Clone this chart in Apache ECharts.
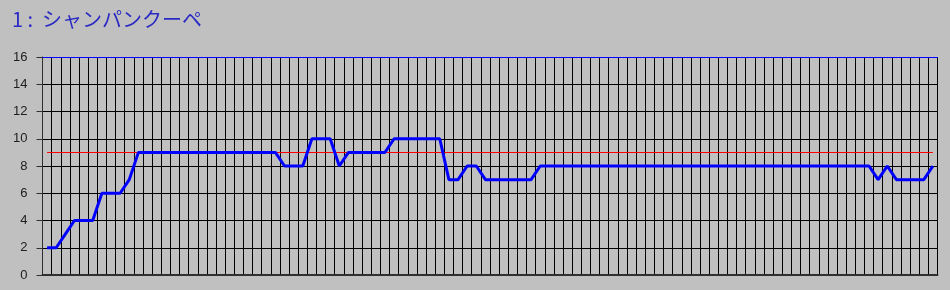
<!DOCTYPE html>
<html>
<head>
<meta charset="utf-8">
<script src="https://cdn.jsdelivr.net/npm/echarts@6/dist/echarts.min.js"></script>
<style>
html,body{margin:0;padding:0;background:#c0c0c0;}
#c{width:950px;height:290px;}
</style>
</head>
<body>
<div id="c"></div>
<script>
const titleText = '1 :  シャンパンクーペ';
const values = [
  2,2,3,4,4,4,6,6,6,7,
  9,9,9,9,9,9,9,9,9,9,9,9,9,9,9,9,
  8,8,8,
  10,10,10,
  8,
  9,9,9,9,9,
  10,10,10,10,10,10,
  7,7,
  8,8,
  7,7,7,7,7,7,
  8,8,8,8,8,8,8,8,8,8,8,8,8,8,8,8,8,8,8,8,8,8,8,8,8,8,8,8,8,8,8,8,8,8,8,8,8,
  7,8,7,7,7,7,8
];
const categories = values.map((v, i) => String(i + 1));
const targetValue = 9;
const yTicks = [0, 2, 4, 6, 8, 10, 12, 14, 16];

const chart = echarts.init(document.getElementById('c'), null, {renderer: 'canvas'});
chart.setOption({
  backgroundColor: '#c0c0c0',
  animation: false,
  title: {
    text: titleText,
    left: 7, top: 4,
    textStyle: {color: '#2a2ac4', fontSize: 20, fontWeight: 'normal', fontFamily: 'Noto Sans CJK JP'}
  },
  grid: {left: 42.5, right: 12.5, top: 57, bottom: 15},
  xAxis: [{
    type: 'category',
    data: categories,
    boundaryGap: true,
    axisLine: {show: true, lineStyle: {color: '#303030', width: 2}},
    axisTick: {show: false},
    axisLabel: {show: false},
    splitLine: {show: true, interval: 0, lineStyle: {color: '#000', width: 1}}
  }, {
    type: 'category',
    data: categories,
    position: 'top',
    axisLine: {show: true, lineStyle: {color: '#0000ff', width: 1}},
    axisTick: {show: false},
    axisLabel: {show: false},
    splitLine: {show: false}
  }],
  yAxis: {
    type: 'value',
    min: yTicks[0], max: yTicks[yTicks.length - 1], interval: 2,
    axisLine: {show: true, lineStyle: {color: '#303030', width: 1}},
    axisTick: {show: true, length: 6, lineStyle: {color: '#303030'}},
    axisLabel: {color: '#202020', fontSize: 13, fontFamily: 'Liberation Sans', margin: 15},
    splitLine: {show: true, lineStyle: {color: '#000', width: 1}}
  },
  series: [{
    type: 'line',
    data: values,
    symbol: 'none',
    lineStyle: {color: '#0000ff', width: 3},
    z: 5,
    markLine: {
      silent: true,
      symbol: 'none',
      label: {show: false},
      lineStyle: {color: '#ff0000', width: 1, type: 'solid'},
      data: [[{xAxis: 0, yAxis: targetValue}, {xAxis: categories.length - 1, yAxis: targetValue}]]
    }
  }]
});
</script>
</body>
</html>
